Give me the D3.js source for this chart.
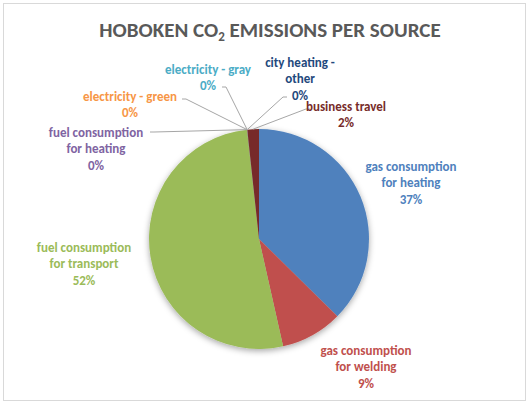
<!DOCTYPE html>
<html><head><meta charset="utf-8">
<script src="https://cdn.jsdelivr.net/npm/d3@7"></script>
<style>
html,body{margin:0;padding:0;background:#fff;}
svg{display:block;font-family:Carlito,Lato,"Open Sans",sans-serif;}
</style></head><body>
<svg id="c" width="529" height="403"></svg>
<script>
const categories = ["gas consumption for heating","gas consumption for welding","fuel consumption for transport","fuel consumption for heating","electricity - green","electricity - gray","city heating - other","business travel"];
const values = [37.4, 9.1, 51.8, 0.01, 0.01, 0.01, 0.01, 1.7];
const labelLines = [["gas consumption","for heating"],["gas consumption","for welding"],["fuel consumption","for transport"],["fuel consumption","for heating"],["electricity - green"],["electricity - gray"],["city heating -","other"],["business travel"]];
const colors = ["#4F81BD","#C0504D","#9BBB59","#8064A2","#F79646","#4BACC6","#1F497D","#772C2A"];
const textColors = ["#4F81BD","#C0504D","#9BBB59","#8064A2","#F79646","#4BACC6","#1F497D","#772C2A"];

// label layout (center x, first line center y) and leader start points
const labelPos = [[411,166],[366,350],[84,247],[96,132],[130,96],[208,69],[300,62],[346,106]];
const leaderStart = [null,null,null,[150,132],[182,99],[222,87],[287,97],[310,109]];

const svg = d3.select("#c");
svg.append("rect").attr("x",3.5).attr("y",3.5).attr("width",522).attr("height",397)
  .attr("fill","#fff").attr("stroke","#D9D9D9").attr("stroke-width",1);

const defs = svg.append("defs");
const f = defs.append("filter").attr("id","sh").attr("x","-20%").attr("y","-20%").attr("width","140%").attr("height","140%");
f.append("feDropShadow").attr("dx",0).attr("dy",2).attr("stdDeviation",3).attr("flood-color","#000").attr("flood-opacity",0.35);

const title = svg.append("text").attr("x",270).attr("y",37).attr("text-anchor","middle")
  .attr("fill","#595959").attr("font-weight","bold").attr("font-size",21);
title.append("tspan").text("HOBOKEN CO");
title.append("tspan").text("2").attr("font-size",13).attr("dy",4);
title.append("tspan").text(" EMISSIONS PER SOURCE").attr("dy",-4);

const cx = 259, cy = 239, r = 110;
const pie = d3.pie().sort(null).value(d=>d);
const arcs = pie(values);
const arc = d3.arc().innerRadius(0).outerRadius(r);
const g = svg.append("g").attr("transform",`translate(${cx},${cy})`);
g.append("g").attr("filter","url(#sh)").selectAll("path").data(arcs).join("path")
  .attr("d",arc).attr("fill",(d,i)=>colors[i]);

const total = d3.sum(values);
// leader lines
arcs.forEach((d,i)=>{
  if(!leaderStart[i]) return;
  const a = (d.startAngle+d.endAngle)/2;
  const ex = cx + Math.sin(a)*r, ey = cy - Math.cos(a)*r;
  const [sx,sy] = leaderStart[i];
  svg.append("polyline").attr("points",`${sx},${sy} ${sx + (sx<ex?4:-4)},${sy} ${ex},${ey}`)
    .attr("fill","none").attr("stroke","#A6A6A6").attr("stroke-width",1);
});

// labels
arcs.forEach((d,i)=>{
  const lines = labelLines[i].concat([Math.round(values[i]/total*100)+"%"]);
  const [lx,ly] = labelPos[i];
  const t = svg.append("text").attr("text-anchor","middle").attr("font-weight","bold")
    .attr("font-size",13).attr("fill",textColors[i]);
  lines.forEach((s,k)=>{
    t.append("tspan").attr("x",lx).attr("y",ly + k*16.8).attr("dy","0.35em").text(s);
  });
});
</script></body></html>
